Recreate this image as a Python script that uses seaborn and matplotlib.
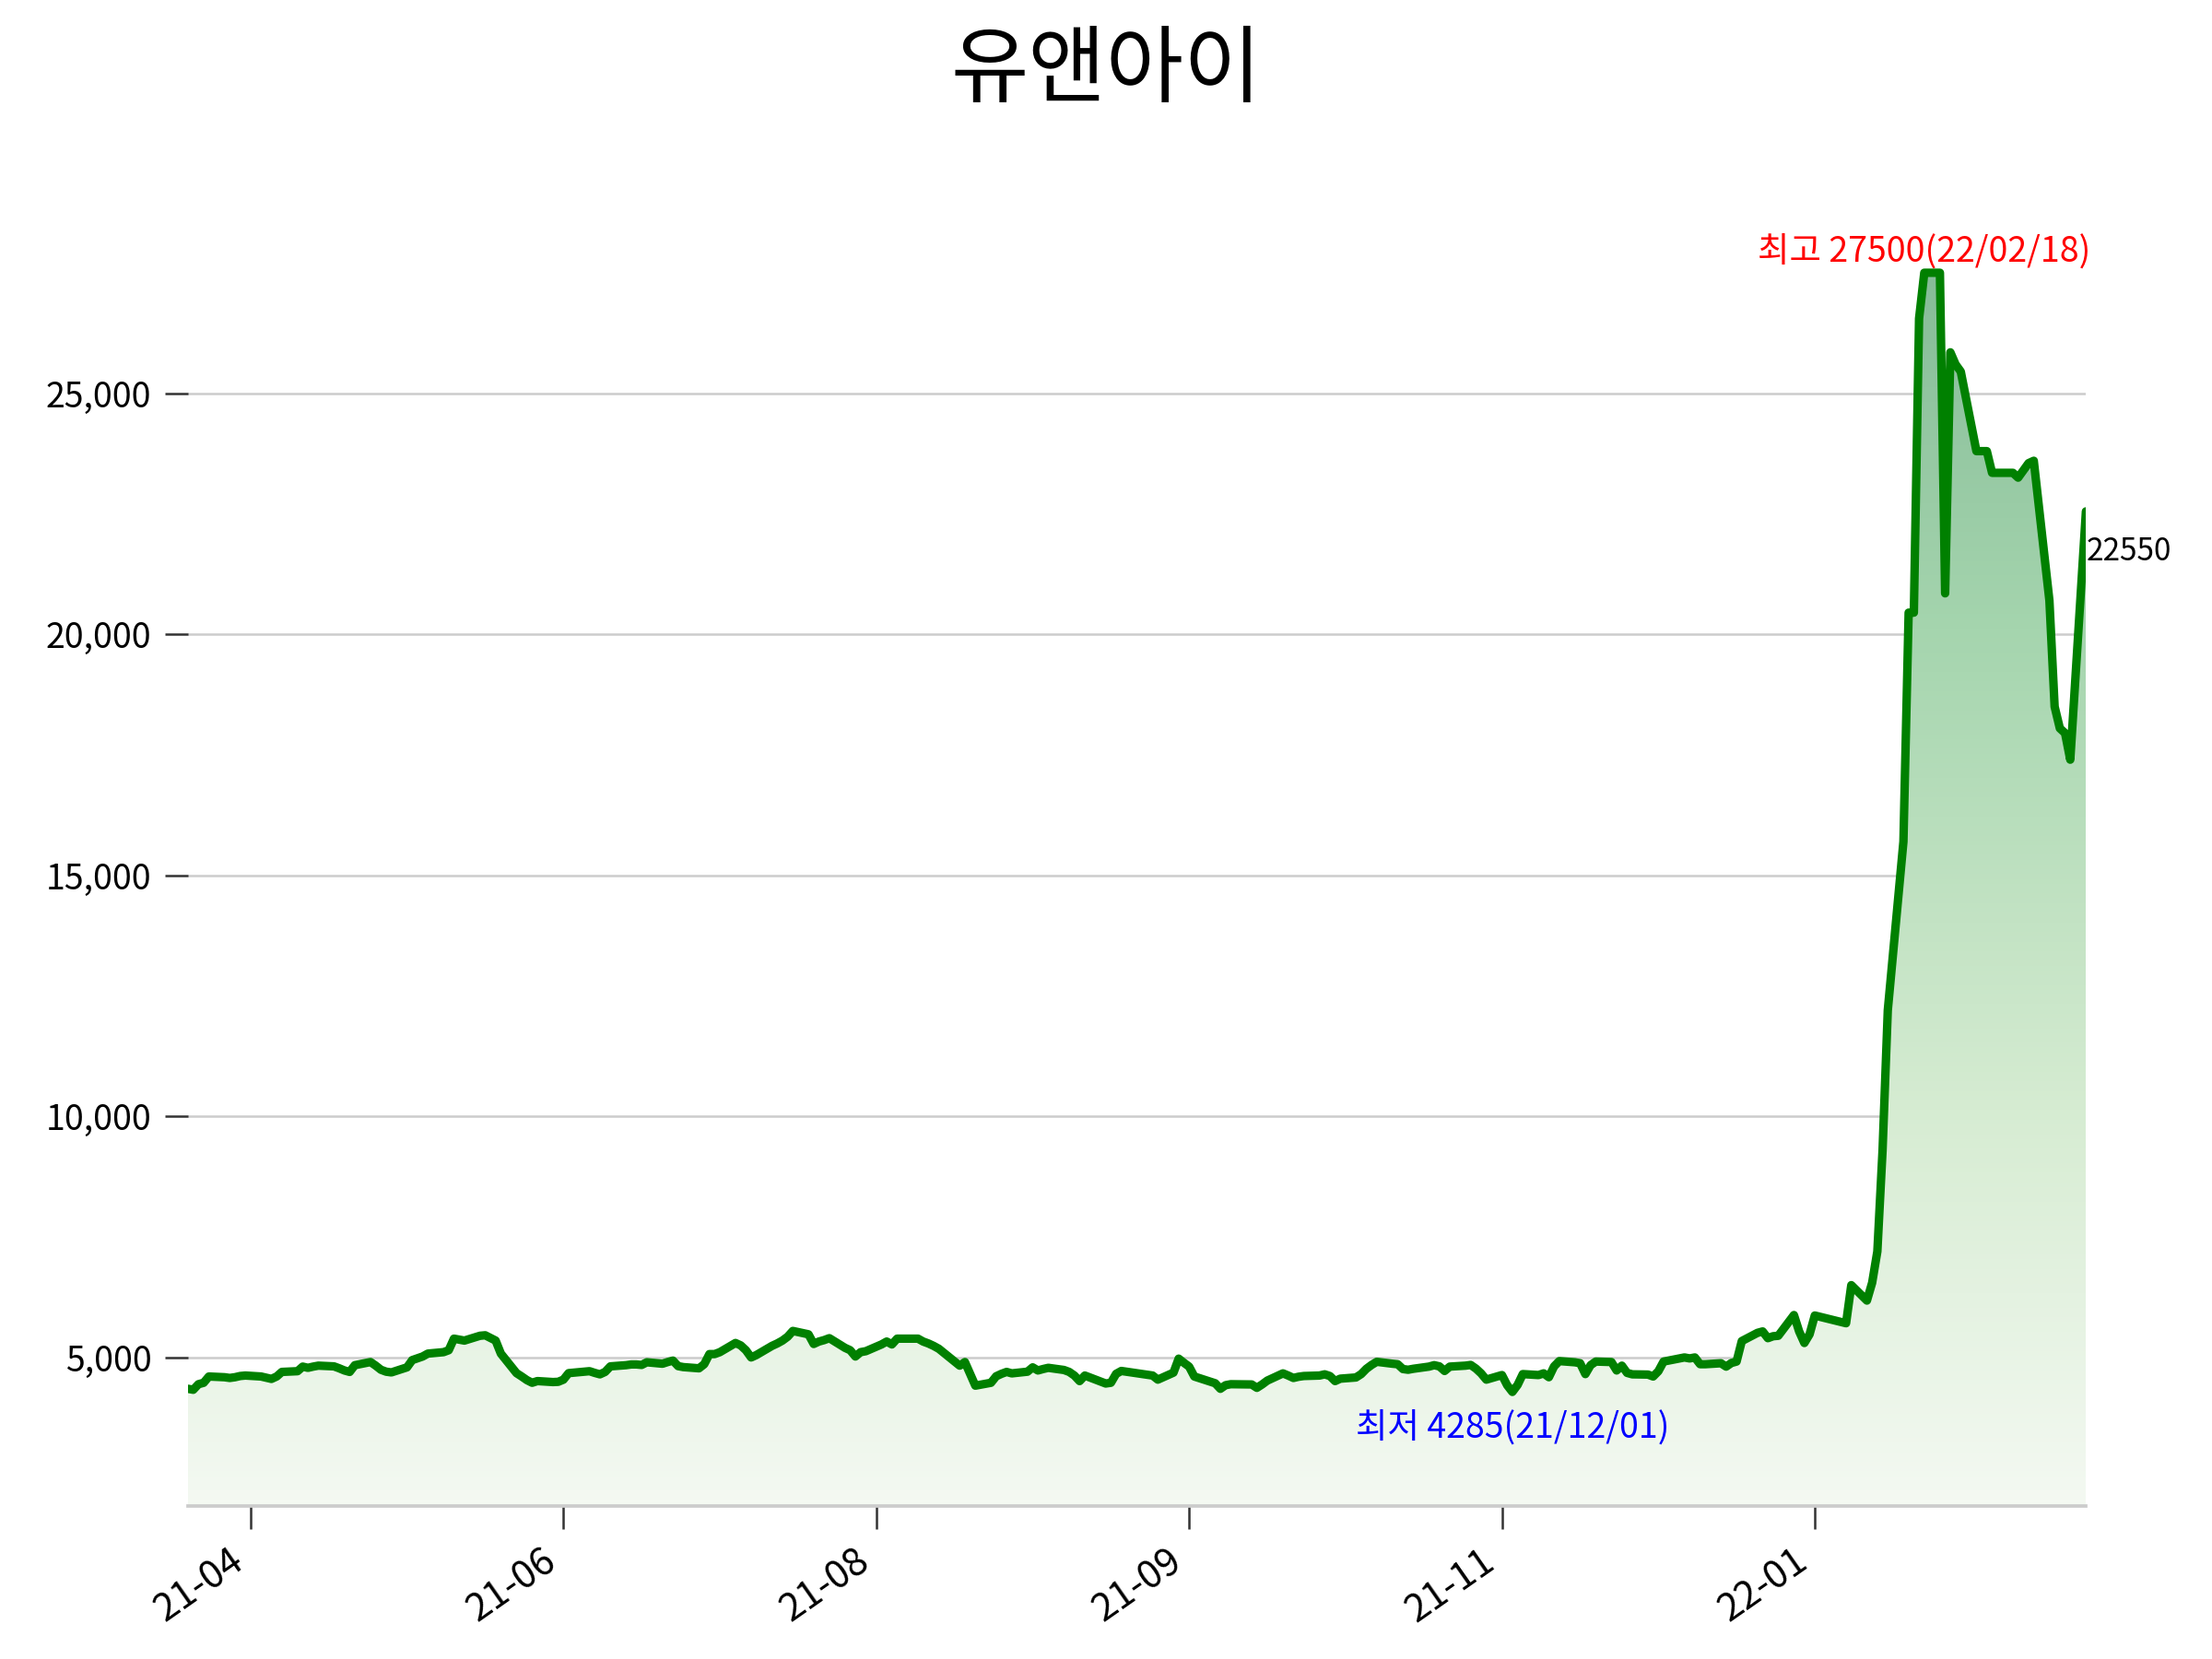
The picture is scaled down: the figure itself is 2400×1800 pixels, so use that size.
import numpy as np
import pandas as pd
import matplotlib
matplotlib.use('Agg')
import matplotlib.pyplot as plt
import matplotlib.dates as mdates
from matplotlib.colors import LinearSegmentedColormap
from matplotlib.ticker import FuncFormatter
import seaborn as sns

title = '유앤아이'
start_date = '2021-03-22'
end_date = '2022-03-21'
# KRX closed days in the window
krx_holidays = ['2021-05-05', '2021-05-19', '2021-08-16', '2021-09-20', '2021-09-21',
                '2021-09-22', '2021-10-04', '2021-10-11', '2021-12-31', '2022-01-31',
                '2022-02-01', '2022-02-02', '2022-03-01', '2022-03-09']

# daily close
close = [
    4350, 4330, 4445, 4475, 4605,  4590, 4575, 4590, 4615, 4625,          # 03-22 ..
    4605, 4580, 4555, 4605, 4700,  4715, 4810, 4785, 4810, 4830,          # 04-05 ..
    4815, 4775, 4730, 4700, 4840,  4905, 4830, 4745, 4705, 4690,          # 04-19 ..
    4795, 4945, 5020, 5080,  5110, 5150, 5390, 5370, 5350,                # 05-03 ..
    5450, 5460, 5350, 5080,  4675, 4605, 4530, 4475, 4510,                # 05-17 ..
    4490, 4495, 4540, 4675, 4685,  4715, 4680, 4650, 4700, 4815,          # 05-31 ..
    4840, 4855, 4855, 4845, 4900,  4870, 4905, 4935, 4820, 4800,          # 06-14 ..
    4775, 4860, 5070, 5070, 5110,  5300, 5250, 5150, 5000, 5050,          # 06-28 ..
    5240, 5290, 5350, 5430, 5550,  5480, 5280, 5330, 5360, 5400,          # 07-12 ..
    5200, 5150, 5020, 5110, 5130,  5270, 5330, 5270, 5390, 5390,          # 07-26 ..
    5390, 5330, 5290, 5240, 5180,  4830, 4905, 4660, 4415,                # 08-09 ..
    4475, 4610, 4660, 4700, 4670,  4705, 4795, 4730, 4760, 4785,          # 08-23 ..
    4740, 4700, 4625, 4510, 4625,  4500, 4460, 4475, 4660, 4720,          # 09-06 ..
    4625, 4540,  4685, 4975, 4890, 4810, 4605,                            # 09-23 ..
    4465, 4350, 4425, 4445,  4440, 4370, 4440, 4520,                      # 10-05 ..
    4670, 4625, 4575, 4600, 4615,  4625, 4650, 4615, 4510, 4560,          # 10-18 ..
    4585, 4655, 4765, 4845, 4910,  4870, 4860, 4760, 4745, 4765,          # 11-01 ..
    4810, 4840, 4815, 4720, 4810,  4830, 4845, 4770, 4670, 4540,          # 11-15 ..
    4635, 4425, 4285, 4430, 4655,  4635, 4670, 4590, 4815, 4925,          # 11-29 ..
    4900, 4880, 4655, 4840, 4915,  4905, 4730, 4830, 4680, 4650,          # 12-13 ..
    4645, 4605, 4715, 4915,                                               # 12-27 ..
    5000, 4980, 5000, 4860, 4860,  4880, 4810, 4885, 4915, 5340,          # 01-03 ..
    5510, 5540, 5400, 5440, 5450,  5880, 5540, 5300, 5480, 5870,          # 01-17 ..
    5710, 6500,  6180, 6550, 7200, 9300, 12200,                           # 02-03 ..
    15700, 20450, 20450, 26550, 27500,  27500, 20850, 25850, 25600, 25450,  # 02-14 ..
    23800, 23800, 23350, 23350,  23350, 23250, 23550, 23600,              # 02-28 ..
    20700, 18500, 18050, 17950, 17400,  22550,                            # 03-14 ..
]

tick_dates = ['2021-04-03', '2021-06-02', '2021-08-01', '2021-09-30', '2021-11-29', '2022-01-28']
yticks = [5000, 10000, 15000, 20000, 25000]
grad_colors = [(0.0, '#f4f9f2'), (0.32, '#d6ecd2'), (0.71, '#a5d5ae'), (1.0, '#86bc98')]

dates = pd.bdate_range(start_date, end_date)
dates = dates[~dates.isin(pd.to_datetime(krx_holidays))]
df = pd.DataFrame({'date': dates, 'close': close})

sns.set_theme(style='whitegrid', context='notebook')
plt.rcParams['font.family'] = ['Noto Sans CJK KR', 'DejaVu Sans']

fig, ax = plt.subplots(figsize=(8, 6), dpi=300)
fig.subplots_adjust(left=0.085, right=0.943, bottom=0.0925, top=0.9155)

hi = df['close'].idxmax()
lo = df['close'].idxmin()
ymin = df['close'].min() * 0.45
ymax = df['close'].max() * 1.1

sns.lineplot(data=df, x='date', y='close', color='green', linewidth=2.2, ax=ax, zorder=3)

# gradient fill under the line
xs = mdates.date2num(df['date'])
cmap = LinearSegmentedColormap.from_list('grad', grad_colors)
grad = np.linspace(0, 1, 256).reshape(-1, 1)
im = ax.imshow(grad, cmap=cmap, aspect='auto', origin='lower', zorder=1,
               extent=[xs[0], xs[-1], ymin, df['close'].max()])
poly = ax.fill_between(df['date'], df['close'], ymin, facecolor='none', edgecolor='none')
im.set_clip_path(poly.get_paths()[0], transform=ax.transData)

ax.set_xlim(df['date'].iloc[0], df['date'].iloc[-1])
ax.set_ylim(ymin, ymax)

# high / low / last labels
d_hi = df['date'][hi]
ax.annotate(f"최고 {df['close'][hi]}({d_hi:%y/%m/%d})", xy=(d_hi, df['close'][hi]),
            xytext=(0, 0.5), textcoords='offset points', ha='center', va='bottom',
            color='red', fontsize=9)
d_lo = df['date'][lo]
ax.annotate(f"최저 {df['close'][lo]}({d_lo:%y/%m/%d})", xy=(d_lo, df['close'][lo]),
            xytext=(0, -5), textcoords='offset points', ha='center', va='top',
            color='blue', fontsize=9)
ax.annotate(f"{df['close'].iloc[-1]}", xy=(df['date'].iloc[-1], df['close'].iloc[-1]),
            xytext=(0, -10.5), textcoords='offset points', ha='left', va='center',
            color='black', fontsize=8)

ax.set_xticks(pd.to_datetime(tick_dates))
ax.xaxis.set_major_formatter(mdates.DateFormatter('%y-%m'))
ax.set_yticks(yticks)
ax.yaxis.set_major_formatter(FuncFormatter(lambda v, p: f'{v:,.0f}'))
plt.setp(ax.get_xticklabels(), rotation=35, ha='right')

ax.tick_params(axis='both', length=6, width=0.6, color='#333333', labelsize=10,
               labelcolor='black', left=True, bottom=True)
ax.tick_params(axis='y', labelsize=9)
ax.xaxis.grid(False)
ax.yaxis.grid(True, color='#cccccc', linewidth=0.6)
sns.despine(ax=ax, left=True)
ax.spines['bottom'].set_color('#cccccc')
ax.spines['bottom'].set_linewidth(0.9)
ax.set_xlabel('')
ax.set_ylabel('')

fig.suptitle(title, fontsize=22, y=0.983, color='black')

plt.savefig('out.png', dpi=300)
